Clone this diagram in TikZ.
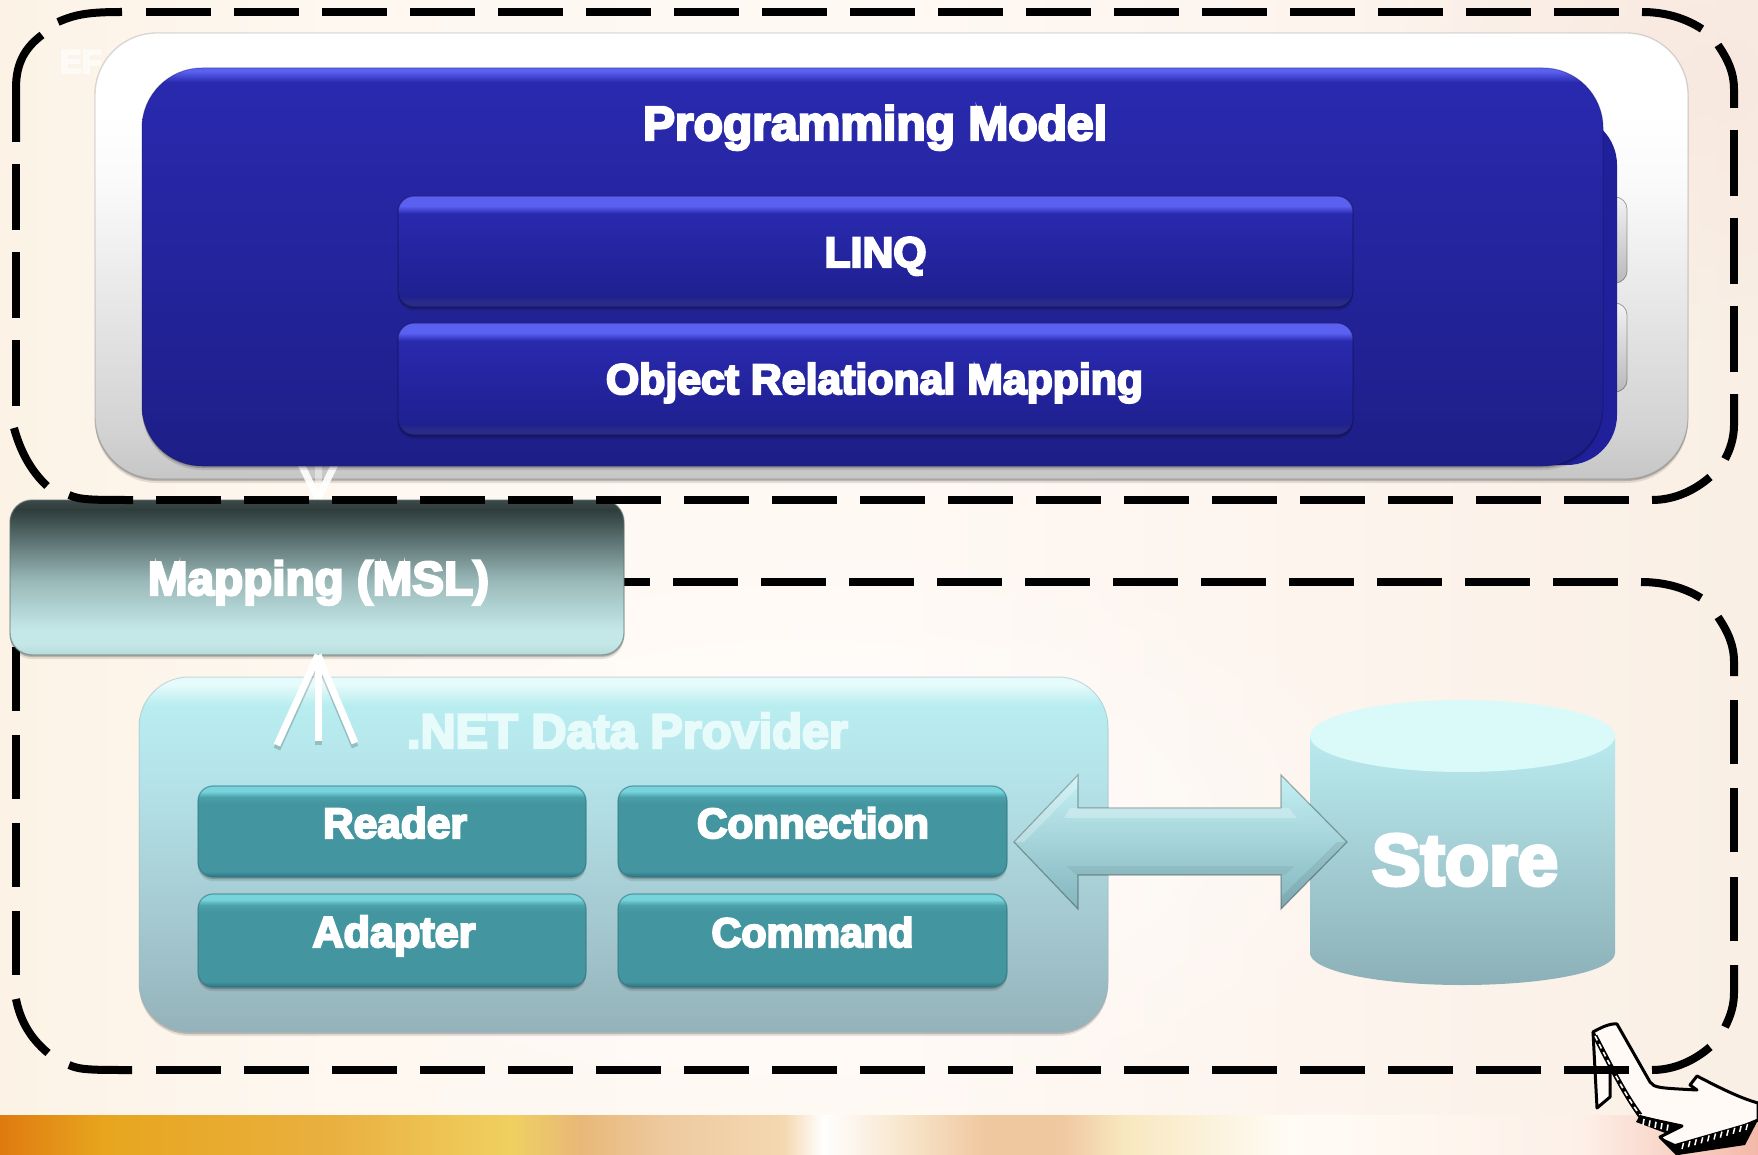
\documentclass[tikz,border=0pt]{standalone}
\usepackage{fontspec}
\usepackage{graphicx}
\usetikzlibrary{shadows,calc,fadings}
\newfontfamily\hv{Liberation Sans}[UprightFont=* Bold,UprightFeatures={FakeBold=5}]
\tikzfading[name=softblob,inner color=transparent!0,outer color=transparent!100]
% colours
\definecolor{bgA}{HTML}{FCF3E6}\definecolor{bgB}{HTML}{FEF8F1}\definecolor{bgC}{HTML}{FFF9F4}\definecolor{bgD}{HTML}{FCF3EC}\definecolor{bgE}{HTML}{F9EFE4}
\definecolor{baA}{HTML}{DF7A10}\definecolor{baB}{HTML}{E8A61E}\definecolor{baC}{HTML}{E9B040}\definecolor{baD}{HTML}{F0D060}\definecolor{baE}{HTML}{E8B878}\definecolor{baF}{HTML}{EECAA0}\definecolor{baG}{HTML}{F5D8B0}\definecolor{baH}{HTML}{FFFFFF}\definecolor{baI}{HTML}{F8E8D0}\definecolor{baJ}{HTML}{F0C8A0}\definecolor{baK}{HTML}{F8E8C0}\definecolor{baL}{HTML}{FFFCF5}\definecolor{baM}{HTML}{FDF0E8}\definecolor{baN}{HTML}{F4B8A8}
\definecolor{pnA}{HTML}{C6C6C6}\definecolor{pnB}{HTML}{D2D2D2}\definecolor{pnC}{HTML}{FAFAFA}
\definecolor{blA}{HTML}{1E1E88}\definecolor{blB}{HTML}{2929AE}\definecolor{blH}{HTML}{5A60F0}\definecolor{blD}{HTML}{1F2090}\definecolor{blE}{HTML}{2A2A88}\definecolor{blS}{HTML}{20209A}
\definecolor{maA}{HTML}{3C4A4A}\definecolor{maB}{HTML}{2E3C3C}\definecolor{maC}{HTML}{5C7272}\definecolor{maD}{HTML}{9AB8B8}\definecolor{maE}{HTML}{C4E8E8}\definecolor{maF}{HTML}{B8DADA}
\definecolor{prA}{HTML}{E6FBFB}\definecolor{prB}{HTML}{B8EDF0}\definecolor{prC}{HTML}{B4E2E8}\definecolor{prD}{HTML}{A4C8CF}\definecolor{prE}{HTML}{94B2BA}
\definecolor{teA}{HTML}{78D4DC}\definecolor{teB}{HTML}{4AA0AA}\definecolor{teC}{HTML}{43959F}\definecolor{teD}{HTML}{2C7480}
\definecolor{arA}{HTML}{C4F0F4}\definecolor{arB}{HTML}{84B6BE}
\definecolor{cyA}{HTML}{B9EAEE}\definecolor{cyB}{HTML}{8CB0B8}\definecolor{cyT}{HTML}{DAFAFA}
\definecolor{txN}{HTML}{E8FBFB}\definecolor{shoeF}{HTML}{FFFAF6}\definecolor{blob}{HTML}{F8E6DE}
% shadings
\pgfdeclarehorizontalshading{bgsh}{100bp}{color(0bp)=(bgA);color(25bp)=(bgA);color(35bp)=(bgB);color(50bp)=(bgC);color(65bp)=(bgD);color(75bp)=(bgE);color(100bp)=(bgE)}
\pgfdeclarehorizontalshading{bandsh}{100bp}{color(0bp)=(baA);color(25bp)=(baA);color(28bp)=(baB);color(34.5bp)=(baC);color(39.5bp)=(baD);color(41.5bp)=(baE);color(44bp)=(baF);color(47.3bp)=(baG);color(48.4bp)=(baH);color(50.5bp)=(baI);color(53bp)=(baJ);color(55.2bp)=(baJ);color(57bp)=(baK);color(61.7bp)=(baL);color(70bp)=(baM);color(75bp)=(baN);color(100bp)=(baN)}
\pgfdeclareverticalshading{panelsh}{100bp}{color(0bp)=(pnA);color(25bp)=(pnA);color(30bp)=(pnB);color(58bp)=(pnC);color(66bp)=(white);color(100bp)=(white)}
\pgfdeclareverticalshading{bluesh}{100bp}{color(0bp)=(blA);color(25bp)=(blA);color(72bp)=(blB);color(73.2bp)=(blB);color(74.6bp)=(blH);color(100bp)=(blH)}
\pgfdeclareverticalshading{innersh}{100bp}{color(0bp)=(blE);color(25bp)=(blE);color(27.5bp)=(blE);color(30bp)=(blD);color(67bp)=(blB);color(70.5bp)=(blH);color(73bp)=(blH);color(100bp)=(blH)}
\pgfdeclareverticalshading{mapsh}{100bp}{color(0bp)=(maF);color(25bp)=(maF);color(29bp)=(maE);color(33bp)=(maE);color(49bp)=(maD);color(62bp)=(maC);color(72bp)=(maB);color(75bp)=(maA);color(100bp)=(maA)}
\pgfdeclareverticalshading{provsh}{100bp}{color(0bp)=(prE);color(25bp)=(prE);color(40bp)=(prD);color(60bp)=(prC);color(71bp)=(prB);color(74bp)=(prA);color(100bp)=(prA)}
\pgfdeclareverticalshading{tealsh}{100bp}{color(0bp)=(teD);color(25bp)=(teD);color(28bp)=(teC);color(65bp)=(teC);color(69bp)=(teB);color(72bp)=(teA);color(100bp)=(teA)}
\tikzset{
  softsh/.style={drop shadow={shadow xshift=0pt,shadow yshift=-4pt,opacity=.10,fill=black},drop shadow={shadow xshift=0pt,shadow yshift=-2pt,opacity=.18,fill=black}},
  base/.style={rectangle,inner sep=0pt,outer sep=0pt},
  panelbox/.style={base,rounded corners=62pt,shading=panelsh,draw=black,draw opacity=.14,line width=1.4pt,softsh},
  bluebox/.style={base,rounded corners=60pt,shading=bluesh,draw=blA!70!black,draw opacity=.35,line width=1pt,softsh},
  backblue/.style={base,rounded corners=50pt,fill=blS},
  tabbox/.style={base,rounded corners=12pt,top color=gray!10,bottom color=gray!55,draw=black,draw opacity=.35,line width=.8pt},
  innerbox/.style={base,rounded corners=16pt,shading=innersh,draw=blA!60!black,draw opacity=.5,line width=1.2pt,softsh},
  mapbox/.style={base,rounded corners=22pt,shading=mapsh,draw=maC,draw opacity=.55,line width=1.4pt,softsh},
  provbox/.style={base,rounded corners=50pt,shading=provsh,draw=prE,draw opacity=.45,line width=1pt,softsh},
  tealbox/.style={base,rounded corners=15pt,shading=tealsh,draw=teD,draw opacity=.6,line width=1.2pt,softsh},
  dashline/.style={black,line width=8pt,line cap=butt},
  whitearrow/.style={white,line width=7pt,line cap=butt},
  lbl/.style={inner sep=0pt,outer sep=0pt,anchor=base,text=white},
  shoeline/.style={black,line width=3pt,line join=round}
}
\newcommand\bx[6]{\node[#6,minimum width={#4-#2},minimum height={#5-#3}] (#1) at ({(#2+#4)/2},{(#3+#5)/2}) {};}
\newcommand\lab[6][white]{\node[lbl,text=#1] (#2) at (#3,#4) {\resizebox{#5pt}{!}{\hv\fontsize{40}{48}\selectfont #6}};}
\begin{document}
\begin{tikzpicture}[x=1pt,y=-1pt]
\useasboundingbox (0,0) rectangle (1758,1155);
\clip (0,0) rectangle (1758,1155);
% background
\fill[shading=bgsh] (0,0) rectangle (1758,1116);
\fill[white,path fading=softblob,opacity=.9] (800,830) ellipse [x radius=620,y radius=300];
\fill[blob,path fading=softblob,opacity=.7] (1700,80) ellipse [x radius=300,y radius=260];
\fill[shading=bandsh] (0,1115) rectangle (1758,1155);
% shoe
\filldraw[shoeline,fill=shoeF] (1593,1032) -- (1597,1108) -- (1610,1097) -- (1610,1065) -- cycle;
\filldraw[shoeline,fill=shoeF] (1593,1032) .. controls (1600,1028) and (1610,1023) .. (1617,1024)
  -- (1650,1082) .. controls (1654,1088) and (1660,1088) .. (1697,1090) -- (1690,1085) -- (1697,1076)
  .. controls (1720,1088) and (1740,1098) .. (1758,1103) -- (1758,1120) -- (1677,1154) -- (1660,1137) -- (1682,1126)
  -- (1640,1117) .. controls (1625,1095) and (1610,1065) .. (1593,1032) -- cycle;
\draw[black,line width=5pt] (1595,1036) .. controls (1610,1065) and (1625,1095) .. (1640,1115);
\draw[white,line width=1.6pt,dash pattern=on 5pt off 4pt] (1595,1036) .. controls (1610,1065) and (1625,1095) .. (1640,1115);
\fill[black] (1640,1115) -- (1682,1126) -- (1668,1134) -- (1636,1122) -- cycle;
\foreach \i in {0,...,4} \draw[white,line width=1.6pt] ({1644+\i*6},{1119+\i*1.4}) -- +(-1,6);
\fill[black] (1660,1137) -- (1678,1155) -- (1745,1145) -- (1758,1120) -- (1675,1144) -- cycle;
\foreach \i in {0,...,10} \draw[white,line width=1.5pt] ({1682+\i*6.4},{1149-\i*1.9}) -- +(1.5,-6);
% lower dashed frame
\foreach \x in {673,761,...,1553} \draw[dashline] (\x,582) -- +(65,0);
\draw[dashline] (585,582) -- (650,582);
\draw[dashline] (1641,582) .. controls (1665,582) and (1685,588) .. (1701,598);
\draw[dashline] (1718,617) .. controls (1728,632) and (1734,645) .. (1734,662) -- (1734,676);
\foreach \y in {700,788,877} \draw[dashline] (1734,\y) -- +(0,64);
\draw[dashline] (1734,965) -- (1734,992) .. controls (1734,1005) and (1731,1015) .. (1725,1027);
\draw[dashline] (1710,1047) .. controls (1695,1060) and (1675,1070) .. (1652,1070);
\foreach \x in {156,244,...,1564} \draw[dashline] (\x,1070) -- +(65,0);
\draw[dashline] (69,1065) .. controls (80,1070) and (92,1070) .. (132,1070);
\draw[dashline] (16,999) .. controls (20,1020) and (30,1038) .. (48,1053);
\foreach \y in {647,735,823,911} \draw[dashline] (16,\y) -- +(0,64);
% provider panel
\bx{provider}{139}{677}{1108}{1032}{provbox}
\bx{reader}{198}{786}{586}{877}{tealbox}
\bx{connection}{618}{786}{1007}{877}{tealbox}
\bx{adapter}{198}{894}{586}{987}{tealbox}
\bx{command}{618}{894}{1007}{987}{tealbox}
% upper panel
\bx{panel}{95}{33}{1688}{479}{panelbox}
\node[lbl,text=white,opacity=.6] (ghost) at (81,73) {\resizebox{42pt}{!}{\hv\fontsize{40}{48}\selectfont EF}};
\bx{tabA}{1500}{197}{1627}{283}{tabbox}
\bx{tabB}{1500}{303}{1627}{392}{tabbox}
% mapping arrow, upper part
\coordinate (vTip) at (318,499);
\coordinate (vL) at (300,462);
\coordinate (vM) at (318,462);
\coordinate (vR) at (336,462);
\draw[whitearrow,opacity=.9] (vL) -- (vTip);
\draw[whitearrow,opacity=.9] (vR) -- (vTip);
\draw[whitearrow,opacity=.45] (vM) -- (vTip);
\bx{backb}{1300}{115}{1617}{465}{backblue}
\bx{blue}{142}{68}{1603}{466}{bluebox}
\bx{linq}{398}{196}{1353}{307}{innerbox}
\bx{orm}{398}{323}{1353}{435}{innerbox}
% upper dashed frame
\foreach \x in {146,234,...,1554} \draw[dashline] (\x,12) -- +(64.5,0);
\draw[dashline] (16,142) -- (16,88) .. controls (16,62) and (26,47) .. (42,35);
\draw[dashline] (58,22) .. controls (76,14) and (90,12) .. (122,12);
\draw[dashline] (1642,12) .. controls (1665,12) and (1685,18) .. (1702,29);
\draw[dashline] (1718,45) .. controls (1728,60) and (1734,72) .. (1734,90) -- (1734,108);
\foreach \y in {130,218,306} \draw[dashline] (1734,\y) -- +(0,66);
\draw[dashline] (1734,394) -- (1734,425) .. controls (1734,438) and (1730,450) .. (1725,459);
\draw[dashline] (1710,477) .. controls (1695,490) and (1675,500) .. (1652,500);
\foreach \y in {164,252,340} \draw[dashline] (16,\y) -- +(0,66);
\draw[dashline] (14,428) .. controls (20,450) and (30,470) .. (47,486);
% mapping box
\bx{mapping}{10}{500}{624}{655}{mapbox}
\foreach \x in {156,244,...,1564} \draw[dashline] (\x,500) -- +(65,0);
\draw[dashline] (69,495) .. controls (80,500) and (92,500) .. (133,500);
% arrow provider to mapping
\coordinate (aTip) at (mapping.south -| vTip);
\coordinate (aL) at (277,745);
\coordinate (aM) at (318,741);
\coordinate (aR) at (355,743);
\foreach \p in {aL,aM,aR} \draw[black,opacity=.18,line width=7pt] ($(\p)+(0,4)$) -- ($(aTip)+(0,4)$);
\foreach \p in {aL,aM,aR} \draw[whitearrow] (\p) -- (aTip);
% store
\shade[top color=cyA,bottom color=cyB]
  (1310,738) -- (1310,953) .. controls (1310,971) and (1378,985) .. (1462,985) .. controls (1547,985) and (1615,971) .. (1615,953) -- (1615,738) -- cycle;
\fill[cyT] (1462.5,736) ellipse [x radius=152.5,y radius=36];
% double arrow connection <-> store
\coordinate (dL) at (1014,842);
\coordinate (dR) at (1347,842);
\shade[top color=arA,bottom color=arB,draw=black,draw opacity=.3,line width=1.2pt]
  (dL) -- ($(dL)+(64,-67)$) -- ($(dL)+(64,-34)$) -- ($(dR)+(-66,-34)$) -- ($(dR)+(-66,-67)$) -- (dR)
  -- ($(dR)+(-66,67)$) -- ($(dR)+(-66,33)$) -- ($(dL)+(64,33)$) -- ($(dL)+(64,67)$) -- cycle;
% bevel of the double arrow
\fill[white,opacity=.28] ($(dL)+(56,-34)$) -- ($(dR)+(-58,-34)$) -- ($(dR)+(-50,-24)$) -- ($(dL)+(50,-24)$) -- cycle;
\fill[black,opacity=.05] ($(dL)+(52,24)$) -- ($(dR)+(-52,24)$) -- ($(dR)+(-62,33)$) -- ($(dL)+(62,33)$) -- cycle;
\fill[white,opacity=.25] (dL) -- ($(dL)+(64,-67)$) -- ($(dL)+(63,-54)$) -- ($(dL)+(10,0)$) -- cycle;
\fill[black,opacity=.07] (dR) -- ($(dR)+(-66,67)$) -- ($(dR)+(-65,54)$) -- ($(dR)+(-10,0)$) -- cycle;
% labels
\lab{tProg}{875}{140}{464}{Programming Model}
\lab{tLinq}{875.5}{267}{102}{LINQ}
\lab{tOrm}{874.5}{394}{537}{Object Relational Mapping}
\lab{tMap}{318.5}{595}{341}{Mapping (MSL)}
\lab[txN]{tNet}{627.5}{748}{441}{.NET Data Provider}
\lab{tRead}{395}{838}{144}{Reader}
\lab{tConn}{813}{838}{232}{Connection}
\lab{tAdap}{394}{947}{163}{Adapter}
\lab{tComm}{812.5}{947}{202}{Command}
\lab{tStore}{1465}{885}{186}{Store}
\end{tikzpicture}
\end{document}
